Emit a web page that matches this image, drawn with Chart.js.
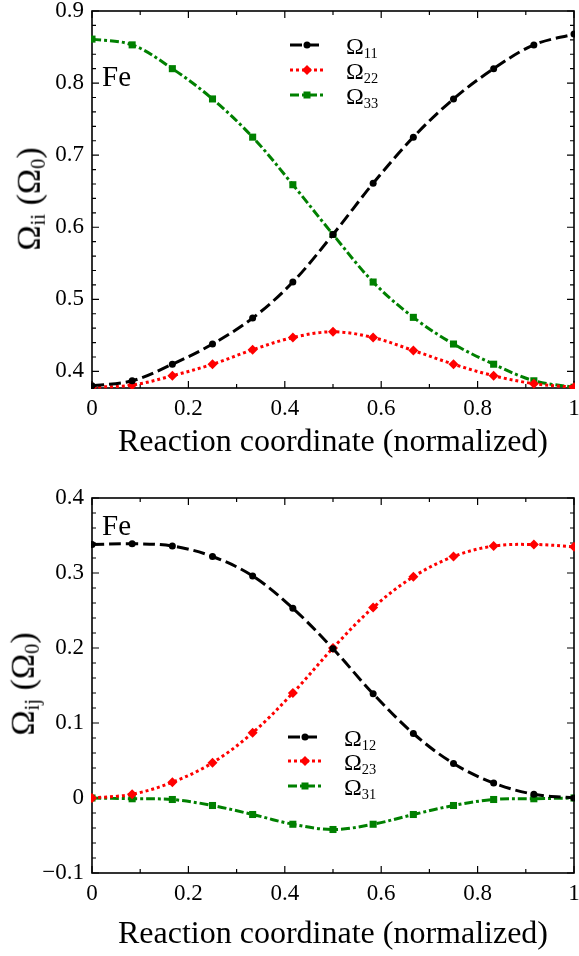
<!DOCTYPE html>
<html>
<head>
<meta charset="utf-8">
<script src="https://cdn.jsdelivr.net/npm/chart.js@4.4.0/dist/chart.umd.min.js"></script>
<style>
    body { margin: 0; width: 579px; height: 956px; background: #fff; position: relative; overflow: hidden;
           font-family: "Liberation Serif", "DejaVu Serif", serif; color: #000; }
    .box { position: absolute; left: 0; width: 579px; }
    .lbl { position: absolute; white-space: nowrap; line-height: 1; }
    .ytitle { font-size: 34px; transform: translate(-50%, -50%) rotate(-90deg); }
    .ytitle sub { font-size: 0.6em; vertical-align: -0.25em; }
    .fe { font-size: 29px; }
    .leg { font-size: 24px; }
    .leg svg { margin-right: 22px; vertical-align: 2px; }
    .leg sub { font-size: 0.6em; vertical-align: -0.3em; }
</style>
</head>
<body>
<div class="box" id="topBox" style="top:0;height:470px"><canvas id="topChart"></canvas></div>
<div class="box" id="botBox" style="top:480px;height:476px"><canvas id="botChart"></canvas></div>

<div class="lbl ytitle" style="left:30px;top:199px">Ω<sub>ii</sub> (Ω<sub>0</sub>)</div>
<div class="lbl ytitle" style="left:24px;top:684px">Ω<sub>ij</sub> (Ω<sub>0</sub>)</div>
<div class="lbl fe" style="left:102px;top:62px">Fe</div>
<div class="lbl fe" style="left:102px;top:511px">Fe</div>

<div id="legTop"></div>
<div id="legBot"></div>

<script>
// reaction coordinate (13 images along the path)
const xs = [0, 0.0833, 0.1667, 0.25, 0.3333, 0.4167, 0.5, 0.5833, 0.6667, 0.75, 0.8333, 0.9167, 1];

// diagonal components
const omega11 = [0.380, 0.387, 0.410, 0.438, 0.474, 0.524, 0.590, 0.661, 0.725, 0.778, 0.820, 0.853, 0.868];
const omega22 = [0.378, 0.381, 0.394, 0.410, 0.430, 0.447, 0.455, 0.447, 0.429, 0.410, 0.394, 0.383, 0.378];
const omega33 = [0.861, 0.853, 0.820, 0.778, 0.725, 0.659, 0.590, 0.524, 0.475, 0.438, 0.410, 0.387, 0.378];

// off-diagonal components
const omega12 = [0.338, 0.339, 0.336, 0.322, 0.296, 0.253, 0.199, 0.139, 0.086, 0.046, 0.020, 0.005, 0.000];
const omega23 = [0.000, 0.005, 0.021, 0.047, 0.087, 0.140, 0.200, 0.254, 0.295, 0.322, 0.336, 0.338, 0.335];
const omega31 = [0.000, -0.001, -0.002, -0.010, -0.022, -0.035, -0.042, -0.035, -0.022, -0.010, -0.002, -0.001, 0.000];

const xTicks = [0, 0.2, 0.4, 0.6, 0.8, 1];
const yTicksTop = [0.4, 0.5, 0.6, 0.7, 0.8, 0.9];
const yTicksBot = [-0.1, 0, 0.1, 0.2, 0.3, 0.4];

const namesTop = ['11', '22', '33'];
const namesBot = ['12', '23', '31'];

const styles = [
    { color: '#000000', dash: [12, 5], point: 'circle', r: 3.5 },
    { color: '#ff0000', dash: [3, 3], point: 'rectRot', r: 5 },
    { color: '#008000', dash: [9, 3, 3, 3], point: 'rect', r: 5 }
];

Chart.defaults.font.family = '"Liberation Serif", "DejaVu Serif", serif';
Chart.defaults.color = '#000';

function fmt(v) {
    if (Math.abs(v) < 1e-9) return '0';
    const s = String(Math.round(v * 10) / 10);
    return s.replace('-', '\u2212');
}

// frame + inward ticks (major and minor) on all four sides
const frameTicks = {
    id: 'frameTicks',
    beforeDatasetsDraw(chart, args, opts) {
        const { ctx, chartArea: a, scales } = chart;
        const x = scales.x, y = scales.y;
        ctx.save();
        ctx.strokeStyle = '#000';
        ctx.lineWidth = 1.2;
        const tick = (px, py, dx, dy) => { ctx.moveTo(px, py); ctx.lineTo(px + dx, py + dy); };
        ctx.beginPath();
        for (let v = x.min; v <= x.max + 1e-9; v += opts.xMinor) {
            const major = xTicks.some(t => Math.abs(t - v) < 1e-6);
            const len = major ? 7 : 4;
            const px = x.getPixelForValue(v);
            tick(px, a.bottom, 0, -len);
            tick(px, a.top, 0, len);
        }
        const start = Math.ceil(y.min / opts.yMinor - 1e-6) * opts.yMinor;
        for (let v = start; v <= y.max + 1e-9; v += opts.yMinor) {
            const major = opts.yMajor.some(t => Math.abs(t - v) < 1e-6);
            const len = major ? 7 : 4;
            const py = y.getPixelForValue(v);
            tick(a.left, py, len, 0);
            tick(a.right, py, -len, 0);
        }
        ctx.stroke();
        ctx.lineWidth = 1.6;
        ctx.strokeRect(a.left, a.top, a.right - a.left, a.bottom - a.top);
        ctx.restore();
    }
};

function makeChart(id, series, yMin, yMax, yTicks, padTop, xAxisH, titlePad) {
    const datasets = series.map((vals, i) => ({
        data: xs.map((x, k) => ({ x: x, y: vals[k] })),
        borderColor: styles[i].color,
        backgroundColor: styles[i].color,
        borderWidth: 3,
        borderDash: styles[i].dash,
        pointStyle: styles[i].point,
        pointRadius: styles[i].r,
        pointBorderWidth: 0,
        tension: 0.35,
        clip: 1
    }));
    return new Chart(document.getElementById(id), {
        type: 'line',
        data: { datasets },
        options: {
            responsive: true,
            maintainAspectRatio: false,
            animation: false,
            events: [],
            layout: { padding: { top: padTop, right: 3, left: 0, bottom: 0 } },
            plugins: {
                legend: { display: false },
                tooltip: { enabled: false },
                frameTicks: { xMinor: 0.1, yMinor: 0.02, yMajor: yTicks }
            },
            scales: {
                x: {
                    type: 'linear', min: 0, max: 1,
                    grid: { display: false, drawTicks: false },
                    border: { display: false },
                    afterBuildTicks: ax => { ax.ticks = xTicks.map(v => ({ value: v })); },
                    afterFit: ax => { ax.height = xAxisH; ax.paddingLeft = 0; ax.paddingRight = 0; },
                    ticks: { padding: 7, font: { size: 23 }, callback: v => fmt(v), maxRotation: 0, autoSkip: false },
                    title: {
                        display: true, text: 'Reaction coordinate (normalized)',
                        font: { size: 32 }, padding: { top: 0, bottom: titlePad }
                    }
                },
                y: {
                    type: 'linear', min: yMin, max: yMax,
                    grid: { display: false, drawTicks: false },
                    border: { display: false },
                    afterBuildTicks: ax => { ax.ticks = yTicks.map(v => ({ value: v })); },
                    afterFit: ax => { ax.width = 92; ax.paddingTop = 0; ax.paddingBottom = 0; },
                    ticks: { padding: 8, font: { size: 23 }, callback: v => fmt(v), autoSkip: false }
                }
            }
        },
        plugins: [frameTicks]
    });
}

makeChart('topChart', [omega11, omega22, omega33], 0.377, 0.9, yTicksTop, 11, 82, 8);
makeChart('botChart', [omega12, omega23, omega31], -0.1, 0.4, yTicksBot, 18, 83, 2);

// legends with subscripts
function sample(s) {
    const dash = s.dash.join(',');
    let mark;
    if (s.point === 'circle') mark = `<circle cx="17" cy="7" r="${s.r}" fill="${s.color}"/>`;
    else if (s.point === 'rectRot') mark = `<polygon points="17,${7 - s.r} ${17 + s.r},7 17,${7 + s.r} ${17 - s.r},7" fill="${s.color}"/>`;
    else mark = `<rect x="${17 - 3.5}" y="3.5" width="7" height="7" fill="${s.color}"/>`;
    return `<svg width="34" height="14"><line x1="0" y1="7" x2="34" y2="7" stroke="${s.color}" stroke-width="3" stroke-dasharray="${dash}"/>${mark}</svg>`;
}
function legend(id, names, left, tops) {
    const el = document.getElementById(id);
    names.forEach((n, i) => {
        const d = document.createElement('div');
        d.className = 'lbl leg';
        d.style.left = left + 'px';
        d.style.top = (tops[i] - 13) + 'px';
        d.innerHTML = sample(styles[i]) + 'Ω<sub>' + n + '</sub>';
        el.appendChild(d);
    });
}
legend('legTop', namesTop, 290, [47, 72, 97]);
legend('legBot', namesBot, 288, [739, 763, 788]);
</script>
</body>
</html>
